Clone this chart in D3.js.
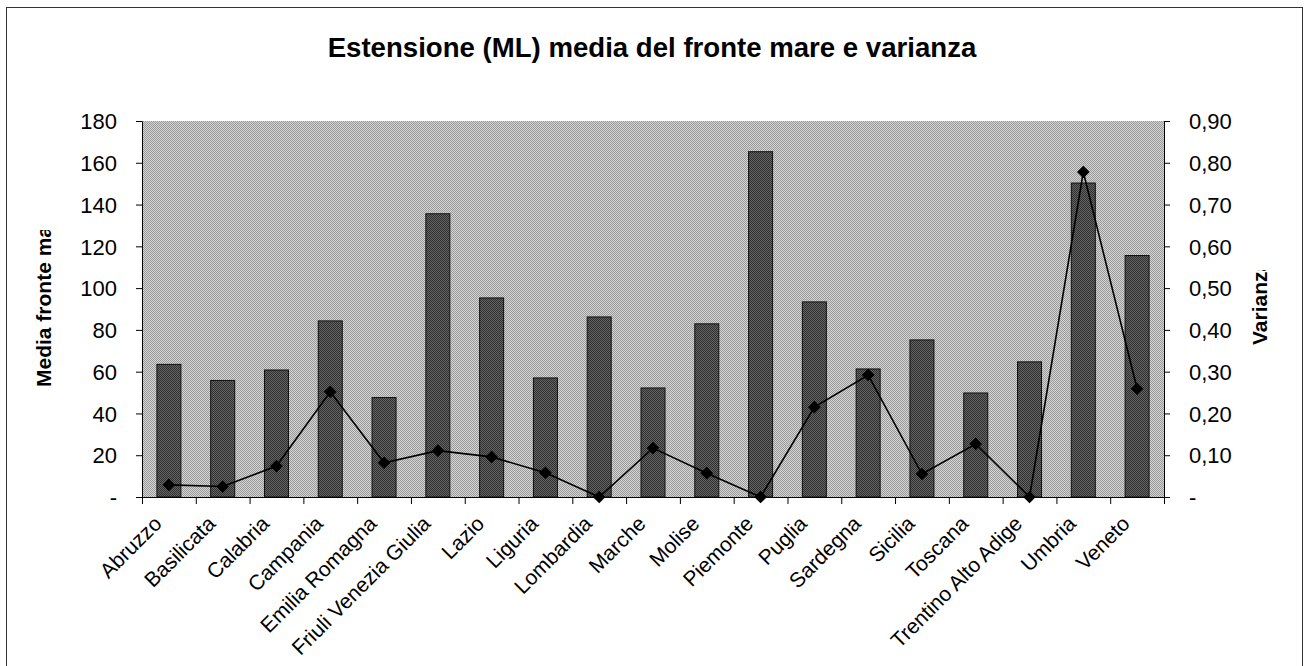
<!DOCTYPE html>
<html>
<head>
<meta charset="utf-8">
<script src="https://cdn.jsdelivr.net/npm/d3@7"></script>
<style>
body { margin:0; background:#fff; }
svg text { font-family: Arial, "Liberation Sans", sans-serif; fill:#000; }
</style>
</head>
<body>
<svg id="chart"></svg>
<script>
var regioni = ["Abruzzo","Basilicata","Calabria","Campania","Emilia Romagna","Friuli Venezia Giulia","Lazio","Liguria","Lombardia","Marche","Molise","Piemonte","Puglia","Sardegna","Sicilia","Toscana","Trentino Alto Adige","Umbria","Veneto"];
var mediaFronte = [63.5, 55.8, 60.8, 84.3, 47.6, 135.6, 95.3, 57, 86.2, 52.2, 82.9, 165.3, 93.4, 61.3, 75.2, 49.8, 64.7, 150.3, 115.6];
var varianza = [0.029, 0.025, 0.074, 0.252, 0.082, 0.111, 0.096, 0.058, 0, 0.117, 0.057, 0, 0.215, 0.292, 0.055, 0.127, 0, 0.778, 0.259];
var ticksSx = [0,20,40,60,80,100,120,140,160,180];
var ticksDx = [0,0.1,0.2,0.3,0.4,0.5,0.6,0.7,0.8,0.9];

var W = 1307, H = 666;
var svg = d3.select("#chart").attr("width", W).attr("height", H);
var defs = svg.append("defs");

// retino grigio del fondo e delle barre
function retino(id, c1, c2) {
	var p = defs.append("pattern").attr("id", id).attr("width", 2).attr("height", 2).attr("patternUnits", "userSpaceOnUse");
	p.append("rect").attr("width", 2).attr("height", 2).attr("fill", c1);
	p.append("rect").attr("width", 1).attr("height", 1).attr("fill", c2);
	p.append("rect").attr("x", 1).attr("y", 1).attr("width", 1).attr("height", 1).attr("fill", c2);
}
retino("fondo", "#d6d6d6", "#989898");
retino("barra", "#646464", "#303030");

// cornice esterna
svg.append("rect").attr("x", 6.5).attr("y", 7.5).attr("width", 1296).attr("height", 700)
	.attr("fill", "none").attr("stroke", "#333").attr("stroke-width", 1);

var x = d3.scaleBand().domain(regioni).range([142, 1164]);
var y = d3.scaleLinear().domain([0, 180]).range([497, 121]);
var y2 = d3.scaleLinear().domain([0, 0.9]).range([497, 121]);

svg.append("rect").attr("x", 142).attr("y", 121).attr("width", 1022).attr("height", 376).attr("fill", "url(#fondo)");

svg.append("text").attr("x", 652).attr("y", 57).attr("text-anchor", "middle")
	.style("font-weight", "bold").style("font-size", "27.6px")
	.text("Estensione (ML) media del fronte mare e varianza");

var bw = 24;
svg.selectAll("rect.bar").data(mediaFronte).enter().append("rect").attr("class", "bar")
	.attr("x", function(d, i) { return x(regioni[i]) + x.bandwidth() / 2 - bw / 2; })
	.attr("y", function(d) { return y(d); })
	.attr("width", bw)
	.attr("height", function(d) { return y(0) - y(d); })
	.attr("fill", "url(#barra)").attr("stroke", "#111").attr("stroke-width", 1);

// assi
var assSx = svg.append("g").attr("transform", "translate(142,0)")
	.call(d3.axisLeft(y).tickValues(ticksSx).tickSize(6).tickPadding(19)
		.tickFormat(function(d) { return d == 0 ? "-" : d; }));
var fmt = d3.format(".2f");
var assDx = svg.append("g").attr("transform", "translate(1164,0)")
	.call(d3.axisRight(y2).tickValues(ticksDx).tickSize(6).tickPadding(19)
		.tickFormat(function(d) { return d == 0 ? "-" : fmt(d).replace(".", ","); }));
[assSx, assDx].forEach(function(a) {
	a.select(".domain").attr("stroke", "#000");
	a.selectAll("line").attr("stroke", "#000");
	a.selectAll("text").style("font-size", "22px").attr("dy", "0.35em");
});

svg.append("line").attr("x1", 142).attr("x2", 1164).attr("y1", 497.5).attr("y2", 497.5).attr("stroke", "#000");
var bordi = regioni.map(function(d) { return x(d); }).concat([x.range()[1]]);
svg.selectAll("line.tx").data(bordi).enter().append("line").attr("class", "tx")
	.attr("x1", function(d) { return d + 0.5; }).attr("x2", function(d) { return d + 0.5; })
	.attr("y1", 497).attr("y2", 504).attr("stroke", "#000");

// etichette categorie (tagliate in alto come in Excel)
defs.append("clipPath").attr("id", "clipEt").append("rect").attr("x", 0).attr("y", 510).attr("width", W).attr("height", 200);
svg.append("g").attr("clip-path", "url(#clipEt)").selectAll("text").data(regioni).enter().append("text")
	.attr("text-anchor", "end").style("font-size", "21px")
	.attr("transform", function(d) { return "translate(" + (x(d) + x.bandwidth() / 2 - 6) + ",525) rotate(-45)"; })
	.text(function(d) { return d; });

// linea varianza
var linea = d3.line().x(function(d, i) { return x(regioni[i]) + x.bandwidth() / 2; }).y(function(d) { return y2(d); });
svg.append("path").datum(varianza).attr("d", linea).attr("fill", "none").attr("stroke", "#000").attr("stroke-width", 1.6);
svg.selectAll("path.pt").data(varianza).enter().append("path").attr("class", "pt")
	.attr("d", d3.symbol().type(d3.symbolSquare).size(80))
	.attr("transform", function(d, i) { return "translate(" + (x(regioni[i]) + x.bandwidth() / 2) + "," + y2(d) + ") rotate(45)"; })
	.attr("fill", "#000");

// titoli assi
defs.append("clipPath").attr("id", "clipSx").append("rect").attr("x", 0).attr("y", 230).attr("width", 140).attr("height", 300);
svg.append("g").attr("clip-path", "url(#clipSx)").append("text")
	.attr("transform", "translate(51,387) rotate(-90)")
	.style("font-weight", "bold").style("font-size", "21px").text("Media fronte mare");
defs.append("clipPath").attr("id", "clipDx").append("rect").attr("x", 1240).attr("y", 270).attr("width", 60).attr("height", 200);
svg.append("g").attr("clip-path", "url(#clipDx)").append("text")
	.attr("transform", "translate(1267,345) rotate(-90)")
	.style("font-weight", "bold").style("font-size", "21px").text("Varianza");
</script>
</body>
</html>
